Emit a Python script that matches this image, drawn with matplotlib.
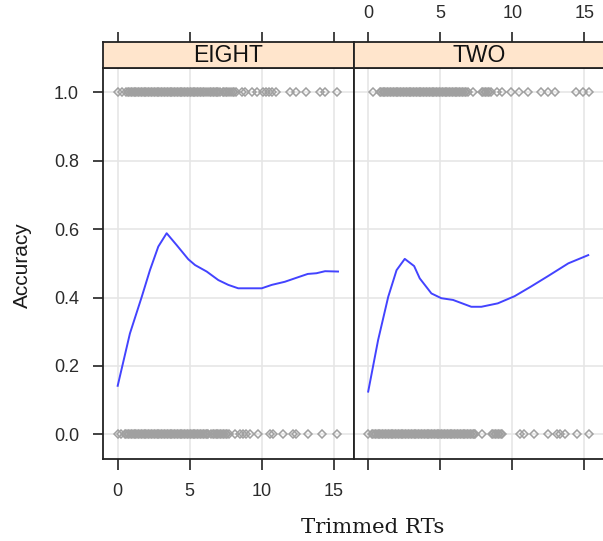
#!/usr/bin/env python3
"""Accuracy vs trimmed RT, lattice-style two-panel plot (EIGHT / TWO)."""

from __future__ import annotations

import matplotlib

matplotlib.use("Agg")
import matplotlib.pyplot as plt

PANELS = ["EIGHT", "TWO"]
X_TICKS = [0, 5, 10, 15]
Y_TICKS = [0.0, 0.2, 0.4, 0.6, 0.8, 1.0]
Y_TICK_LABELS = ["0.0", "0.2", "0.4", "0.6", "0.8", "1.0"]

# raw trials (x = trimmed RT, s); correct trials sit at 1.0, errors at 0.0
eight_rt_correct = [
    0.05, 0.3,
    0.6, 0.7, 0.8, 0.9, 1.0, 1.1, 1.2, 1.3, 1.4, 1.5, 1.6, 1.7, 1.8, 1.9, 2.0, 2.1, 2.2, 2.3,
    2.4, 2.5, 2.6, 2.7, 2.8, 2.9, 3.0, 3.1, 3.2, 3.3, 3.4, 3.5, 3.6, 3.7, 3.8, 3.9, 4.0, 4.1,
    4.2, 4.3, 4.4, 4.5, 4.6, 4.7, 4.8, 4.9, 5.0, 5.1, 5.2, 5.3, 5.4, 5.5, 5.6, 5.7, 5.8, 5.9,
    6.0, 6.1, 6.3, 6.4, 6.5, 6.6, 6.7, 6.8, 6.9, 7.0, 7.1, 7.3, 7.4, 7.5, 7.6, 7.7, 7.9, 8.0,
    8.1, 8.2,
    8.6, 8.85, 9.3, 9.65, 10.1, 10.3, 10.5, 10.7, 11.0, 12.0, 12.4, 13.1, 14.05, 14.4, 15.2,
]
eight_rt_error = [
    0.0, 0.2,
    0.5, 0.6, 0.7, 0.8, 0.9, 1.0, 1.1, 1.2, 1.3, 1.4, 1.5, 1.6, 1.7, 1.8, 1.9, 2.0, 2.1, 2.2,
    2.3, 2.4, 2.5, 2.6, 2.7, 2.8, 2.9, 3.0, 3.1, 3.2, 3.3, 3.4, 3.5, 3.6, 3.7, 3.8, 3.9, 4.0,
    4.1, 4.2, 4.3, 4.4, 4.5, 4.6, 4.7, 4.8, 4.9, 5.0, 5.1, 5.2, 5.3, 5.4, 5.5, 5.6, 5.7, 5.8,
    5.9, 6.0, 6.1, 6.2, 6.3, 6.5, 6.6, 6.7, 6.8, 6.9, 7.0, 7.1, 7.2, 7.3, 7.4, 7.5, 7.6, 7.7,
    8.15, 8.5, 8.7, 8.9, 9.2, 9.75, 10.6, 10.8, 11.5, 12.2, 12.4, 13.2, 14.2, 15.2,
]
two_rt_correct = [
    0.3,
    0.8, 0.9, 1.0, 1.1, 1.2, 1.3, 1.4, 1.5, 1.6, 1.7, 1.8, 1.9, 2.0, 2.1, 2.2, 2.3, 2.4, 2.5,
    2.6, 2.7, 2.8, 2.9, 3.0, 3.1, 3.2, 3.3, 3.4, 3.5, 3.6, 3.7, 3.8, 3.9, 4.0, 4.1, 4.2, 4.3,
    4.4, 4.5, 4.6, 4.7, 4.8, 4.9, 5.0, 5.1, 5.2, 5.3, 5.4, 5.5, 5.6, 5.7, 5.8, 5.9, 6.0, 6.1,
    6.2, 6.3, 6.4, 6.5, 6.6, 6.7, 6.8, 6.9,
    7.25, 7.9, 8.0, 8.1, 8.2, 8.3, 8.4, 8.5, 8.95, 9.3, 9.9, 10.45, 11.1, 12.0, 12.5, 12.95,
    14.4, 14.9, 15.3,
]
two_rt_error = [
    0.0,
    0.25, 0.35, 0.45, 0.55, 0.65, 0.75, 0.85, 0.95, 1.05, 1.15, 1.25, 1.35, 1.45, 1.55, 1.65,
    1.75, 1.85, 1.95, 2.05, 2.15, 2.25, 2.35, 2.45, 2.55, 2.65, 2.75, 2.85, 2.95, 3.05, 3.15,
    3.25, 3.35, 3.45, 3.55, 3.65, 3.75, 3.85, 3.95, 4.05, 4.15, 4.25, 4.35, 4.45, 4.55, 4.65,
    4.75, 4.85, 4.95, 5.05, 5.15, 5.25, 5.35, 5.45, 5.55, 5.65, 5.75, 5.85, 5.95, 6.05, 6.15,
    6.25, 6.35, 6.45, 6.55, 6.65, 6.75, 6.85, 6.95, 7.05, 7.15, 7.25, 7.35, 7.45,
    7.9, 8.6, 8.7, 8.8, 8.9, 9.0, 9.1, 9.2, 9.3,
    10.55, 10.8, 11.5, 12.5, 13.1, 13.3, 13.7, 14.5, 15.3,
]

# smoothed accuracy curves
eight_curve_x = [0.0, 0.85, 1.67, 2.24, 2.82, 3.4, 4.1, 4.9, 5.37, 6.18, 6.99, 7.68, 8.37,
                 10.0, 10.7, 11.6, 12.5, 13.2, 13.8, 14.4, 15.3]
eight_curve_y = [0.142, 0.295, 0.402, 0.48, 0.549, 0.588, 0.553, 0.512, 0.495, 0.476, 0.451,
                 0.437, 0.427, 0.427, 0.437, 0.446, 0.459, 0.469, 0.471, 0.477, 0.476]
two_curve_x = [0.0, 0.69, 1.39, 1.97, 2.54, 3.19, 3.58, 4.39, 5.08, 5.89, 7.16, 7.86, 9.0,
               10.17, 11.3, 12.5, 13.9, 15.28]
two_curve_y = [0.125, 0.276, 0.402, 0.48, 0.513, 0.492, 0.456, 0.412, 0.398, 0.393, 0.373,
               0.373, 0.383, 0.404, 0.432, 0.463, 0.5, 0.524]

FIG_W, FIG_H = 603, 541
XLIM = (-1.02, 16.375)
YLIM = (-0.072, 1.071)
TICK_COLOR = "#2b2b2b"
FRAME = "#222222"


def px_rect(x0: float, y_top: float, w: float, h: float) -> list[float]:
    return [x0 / FIG_W, (FIG_H - y_top - h) / FIG_H, w / FIG_W, h / FIG_H]


def draw_panel(fig, idx: int, name: str, rt_ok, rt_err, cx, cy) -> None:
    x0 = 103 + idx * 250.5
    ax = fig.add_axes(px_rect(x0, 68, 250.5, 391))
    strip = fig.add_axes(px_rect(x0, 42, 250.5, 26))

    ax.set_xlim(*XLIM)
    ax.set_ylim(*YLIM)
    for v in X_TICKS:
        ax.axvline(v, color="#e6e6e6", lw=1.2, zorder=0)
    for v in Y_TICKS:
        ax.axhline(v, color="#e6e6e6", lw=1.2, zorder=0)

    mk = dict(marker="D", ms=4.0, mfc="none", mec="#a0a0a0", mew=1.1, ls="none", zorder=2)
    ax.plot(rt_ok, [1.0] * len(rt_ok), **mk)
    ax.plot(rt_err, [0.0] * len(rt_err), **mk)
    ax.plot(cx, cy, color="#4343ff", lw=1.4, zorder=3)

    ax.set_xticks(X_TICKS)
    ax.tick_params(axis="x", direction="out", length=8, width=1.2, color=FRAME,
                   labelsize=13, labelcolor=TICK_COLOR, pad=9, labelbottom=(idx == 0))
    if idx == 0:
        ax.set_yticks(Y_TICKS, Y_TICK_LABELS)
        ax.tick_params(axis="y", direction="out", length=7.2, width=1.2, color=FRAME,
                       labelsize=13, labelcolor=TICK_COLOR, pad=10)
    else:
        ax.set_yticks([])
    for sp in ax.spines.values():
        sp.set_color(FRAME)
        sp.set_linewidth(1.3)

    strip.set_facecolor("#ffe5cc")
    strip.set_xlim(*XLIM)
    strip.set_ylim(0, 1)
    strip.set_yticks([])
    strip.set_xticks(X_TICKS)
    strip.tick_params(axis="x", top=True, bottom=False, labelbottom=False, labeltop=(idx == 1),
                      direction="out", length=7.2, width=1.2, color=FRAME,
                      labelsize=13, labelcolor=TICK_COLOR, pad=7)
    for sp in strip.spines.values():
        sp.set_color(FRAME)
        sp.set_linewidth(1.3)
    strip.text(0.5, 0.47, name, transform=strip.transAxes, ha="center", va="center",
               fontsize=16.5, color="#111111", family="Liberation Sans")


def main() -> int:
    plt.rcParams["font.family"] = ["Liberation Sans", "DejaVu Sans"]
    fig = plt.figure(figsize=(FIG_W / 100, FIG_H / 100), dpi=100)
    draw_panel(fig, 0, PANELS[0], eight_rt_correct, eight_rt_error, eight_curve_x, eight_curve_y)
    draw_panel(fig, 1, PANELS[1], two_rt_correct, two_rt_error, two_curve_x, two_curve_y)

    fig.text(22 / FIG_W, 1 - 265 / FIG_H, "Accuracy", rotation=90, ha="center", va="center",
             fontsize=15, color="#1a1a1a")
    fig.text(373 / FIG_W, (FIG_H - 533) / FIG_H, "Trimmed RTs", ha="center", va="baseline",
             fontsize=15.3, color="#1a1a1a", family="DejaVu Serif")
    fig.savefig("out.png", dpi=100)
    plt.close(fig)
    return 0


if __name__ == "__main__":
    raise SystemExit(main())
